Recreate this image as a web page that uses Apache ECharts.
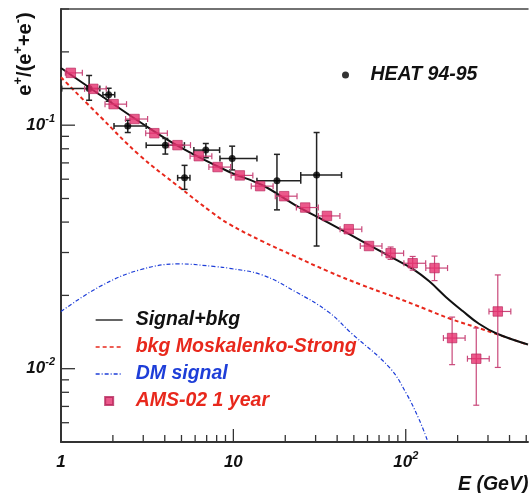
<!DOCTYPE html>
<html>
<head>
<meta charset="utf-8">
<script src="https://cdn.jsdelivr.net/npm/echarts@6/dist/echarts.min.js"></script>
<style>
  html, body { margin: 0; padding: 0; background: #fff; }
  #chart { width: 531px; height: 493px; }
</style>
</head>
<body>
<div id="chart"></div>
<script>
// Signal+bkg curve
const sumE = [1, 1.678, 2.853, 4.852, 9.42, 14.66, 22.83, 35.5, 55.3, 86.1, 109.7, 136.9, 170.8, 213.1, 265.9, 339, 511.7];
const sumF = [0.1717, 0.1334, 0.1033, 0.0816, 0.0644, 0.0568, 0.0470, 0.0398, 0.0335, 0.02824, 0.02569, 0.02284, 0.01972, 0.01729, 0.01529, 0.01391, 0.01257];

// bkg Moskalenko-Strong curve
const bkgE = [1, 1.678, 2.853, 4.852, 7.52, 9.42, 14.66, 22.83, 35.5, 55.3, 86.1, 133.6, 182.5, 284, 511.7];
const bkgF = [0.1573, 0.1089, 0.0753, 0.0557, 0.0438, 0.0393, 0.0334, 0.0289, 0.0251, 0.0221, 0.0197, 0.01745, 0.0160, 0.01445, 0.01254];

// DM signal curve
const dmE = [1, 1.678, 2.853, 4.852, 7.88, 9.42, 14.66, 22.83, 35.5, 48.3, 80.6, 100.4, 119.6, 134.6];
const dmF = [0.01717, 0.02174, 0.02544, 0.02693, 0.02626, 0.02586, 0.02428, 0.02074, 0.01713, 0.01400, 0.01010, 0.00795, 0.00618, 0.005];

// HEAT 94-95 points
const heatE = [1.456, 1.89, 2.44, 4.03, 5.21, 6.92, 9.84, 17.9, 30.4];
const heatF = [0.1413, 0.1334, 0.0993, 0.0828, 0.0608, 0.0790, 0.0730, 0.0592, 0.0624];
const heatELo = [1.01, 1.75, 2.03, 3.12, 4.75, 5.9, 8.36, 13.7, 24.6];
const heatEHi = [1.68, 2.05, 3.12, 5.2, 5.6, 8.32, 13.7, 24.6, 42.4];
const heatFLo = [0.1266, 0.1254, 0.0933, 0.0761, 0.0545, 0.0735, 0.0655, 0.0449, 0.0319];
const heatFHi = [0.160, 0.1418, 0.1048, 0.0882, 0.0684, 0.0841, 0.082, 0.0759, 0.0933];

// AMS-02 1 year points
const amsE = [1.14, 1.54, 2.02, 2.67, 3.48, 4.74, 6.3, 8.1, 10.9, 14.3, 19.7, 26.1, 34.9, 46.7, 61.2, 81.7, 109.7, 146.9, 185.8, 256.5, 342];
const amsF = [0.164, 0.141, 0.122, 0.106, 0.0927, 0.0828, 0.0746, 0.0673, 0.0622, 0.0562, 0.0511, 0.0459, 0.0424, 0.0374, 0.0319, 0.0298, 0.0271, 0.0259, 0.01336, 0.01099, 0.01718];
const amsELo = [1.06, 1.37, 1.80, 2.37, 3.10, 4.22, 5.61, 7.21, 9.70, 12.7, 17.5, 23.2, 31.1, 41.6, 54.5, 72.7, 97.6, 130.7, 165.4, 228, 304];
const amsEHi = [1.33, 1.83, 2.40, 3.18, 4.14, 5.64, 7.50, 9.64, 12.97, 17.0, 23.4, 31.1, 41.5, 55.6, 72.8, 97.2, 130.5, 174.8, 221, 305, 407];
const amsFLo = [0.164, 0.141, 0.122, 0.106, 0.0927, 0.0828, 0.0746, 0.0673, 0.0622, 0.0562, 0.0511, 0.0459, 0.0424, 0.0374, 0.0319, 0.0281, 0.0254, 0.0230, 0.01039, 0.00708, 0.01012];
const amsFHi = [0.164, 0.141, 0.122, 0.106, 0.0927, 0.0828, 0.0746, 0.0673, 0.0622, 0.0562, 0.0511, 0.0459, 0.0424, 0.0374, 0.0319, 0.0316, 0.0289, 0.0290, 0.01629, 0.01469, 0.02427];

// axis ticks
const xMajorTicks = [1, 10, 100];
const xMinorTicks = [2, 3, 4, 5, 6, 7, 8, 9, 20, 30, 40, 50, 60, 70, 80, 90, 200, 300, 400, 500];
const yMajorTicks = [0.01, 0.1];
const yMinorTicks = [0.006, 0.007, 0.008, 0.009, 0.02, 0.03, 0.04, 0.05, 0.06, 0.07, 0.08, 0.09, 0.2, 0.3];

// the picture is cut at the right, around E = 512 GeV
const xMin = 1, xMax = 512, yMin = 0.005, yMax = 0.3;

const FONT = 'Liberation Sans';
const RED = '#e8281c';
const BLUE = '#1e3ed8';
const PINK = '#e6306e';
const PINK_BAR = '#c9487a';
const AXIS = '#333';

const zip = (a, b) => a.map((v, i) => [v, b[i]]);

function labelRich() {
  return {
    b: { fontFamily: FONT, fontSize: 17, fontWeight: 'bold', fontStyle: 'italic', color: '#111', lineHeight: 24 },
    s: { fontFamily: FONT, fontSize: 11, fontWeight: 'bold', fontStyle: 'italic', color: '#111', lineHeight: 12, verticalAlign: 'top' }
  };
}

function powerLabel(v) {
  const p = Math.log10(v);
  const n = Math.round(p);
  if (Math.abs(p - n) > 1e-6) return '';
  if (n === 0) return '{b|1}';
  if (n === 1) return '{b|10}';
  return '{b|10}{s|' + n + '}';
}

function errorBars(color, width, cap) {
  return function (params, api) {
    const e = api.value(0), f = api.value(1);
    const l = api.coord([api.value(2), f]);
    const r = api.coord([api.value(3), f]);
    const st = { stroke: color, lineWidth: width };
    const kids = [
      { type: 'line', shape: { x1: l[0], y1: l[1], x2: r[0], y2: r[1] }, style: st },
      { type: 'line', shape: { x1: l[0], y1: l[1] - cap, x2: l[0], y2: l[1] + cap }, style: st },
      { type: 'line', shape: { x1: r[0], y1: r[1] - cap, x2: r[0], y2: r[1] + cap }, style: st }
    ];
    const fLo = api.value(4), fHi = api.value(5);
    if (fHi > fLo) {
      const t = api.coord([e, fHi]), b = api.coord([e, fLo]);
      kids.push(
        { type: 'line', shape: { x1: t[0], y1: t[1], x2: b[0], y2: b[1] }, style: st },
        { type: 'line', shape: { x1: t[0] - cap, y1: t[1], x2: t[0] + cap, y2: t[1] }, style: st },
        { type: 'line', shape: { x1: b[0] - cap, y1: b[1], x2: b[0] + cap, y2: b[1] }, style: st }
      );
    }
    return { type: 'group', children: kids };
  };
}

const heatBars = heatE.map((e, i) => [e, heatF[i], heatELo[i], heatEHi[i], heatFLo[i], heatFHi[i]]);
const amsBars = amsE.map((e, i) => [e, amsF[i], amsELo[i], amsEHi[i], amsFLo[i], amsFHi[i]]);

const xTickData = xMajorTicks.map(t => [t, yMin, 1]).concat(xMinorTicks.map(t => [t, yMin, 0]));
const yTickData = yMajorTicks.map(t => [xMin, t, 1]).concat(yMinorTicks.map(t => [xMin, t, 0]));

const chart = echarts.init(document.getElementById('chart'));

const noSymbol = { color: 'transparent', borderWidth: 0 };

const option = {
  animation: false,
  backgroundColor: '#fff',
  grid: { left: 61, right: 0, top: 9, bottom: 51, show: false },
  xAxis: [
    {
      type: 'log', logBase: 10, min: xMin, max: xMax,
      axisLine: { show: true, lineStyle: { color: AXIS, width: 2 } },
      axisTick: { show: false },
      splitLine: { show: false },
      axisLabel: { margin: 8, formatter: powerLabel, rich: labelRich() }
    },
    {
      // top frame line
      type: 'log', logBase: 10, min: xMin, max: xMax, position: 'top',
      axisLine: { show: true, lineStyle: { color: '#444', width: 1.5 } },
      axisTick: { show: false }, axisLabel: { show: false }, splitLine: { show: false }
    }
  ],
  yAxis: {
    type: 'log', logBase: 10, min: yMin, max: yMax,
    axisLine: { show: true, lineStyle: { color: AXIS, width: 2 } },
    axisTick: { show: false },
    splitLine: { show: false },
    axisLabel: { margin: 6, formatter: powerLabel, rich: labelRich() }
  },
  legend: [
    {
      orient: 'vertical', left: 90, top: 305,
      itemWidth: 27, itemHeight: 8, itemGap: 7,
      lineStyle: { width: 1.3 },
      textStyle: { fontFamily: FONT, fontSize: 19.5, fontWeight: 'bold', fontStyle: 'italic', padding: [0, 0, 0, 8] },
      data: [
        { name: 'Signal+bkg', itemStyle: noSymbol, textStyle: { color: '#111' } },
        { name: 'bkg Moskalenko-Strong', itemStyle: noSymbol, textStyle: { color: RED } },
        { name: 'DM signal', itemStyle: noSymbol, textStyle: { color: BLUE } },
        { name: 'AMS-02 1 year', icon: 'path://M0,0H10V10H0Z', textStyle: { color: RED } }
      ]
    },
    {
      left: 337, top: 60,
      itemWidth: 40, itemHeight: 7,
      textStyle: { fontFamily: FONT, fontSize: 19.5, fontWeight: 'bold', fontStyle: 'italic', color: '#111' },
      data: ['HEAT 94-95']
    }
  ],
  graphic: [
    {
      type: 'text', x: 25, y: 54, rotation: Math.PI / 2,
      style: {
        text: '{b|e}{s|+}{b|/(e}{s|+}{b|+e}{s|-}{b|)}',
        align: 'center', verticalAlign: 'middle',
        rich: {
          b: { fontFamily: FONT, fontSize: 20, fontWeight: 'bold', fill: '#111', lineHeight: 27 },
          s: { fontFamily: FONT, fontSize: 13, fontWeight: 'bold', fill: '#111', lineHeight: 13, verticalAlign: 'top' }
        }
      }
    },
    {
      type: 'text', x: 458, y: 485,
      style: {
        text: 'E (GeV)', fill: '#111',
        font: 'italic bold 19.5px "Liberation Sans"',
        align: 'left', verticalAlign: 'middle'
      }
    }
  ],
  series: [
    {
      name: 'xticks', type: 'custom', silent: true, z: 1,
      encode: { x: 0, y: 1 },
      renderItem: function (params, api) {
        const p = api.coord([api.value(0), api.value(1)]);
        const len = api.value(2) ? 13 : 7;
        return { type: 'line', shape: { x1: p[0], y1: p[1], x2: p[0], y2: p[1] - len }, style: { stroke: AXIS, lineWidth: 1.3 } };
      },
      data: xTickData
    },
    {
      name: 'yticks', type: 'custom', silent: true, z: 1,
      encode: { x: 0, y: 1 },
      renderItem: function (params, api) {
        const p = api.coord([api.value(0), api.value(1)]);
        const len = api.value(2) ? 14 : 8;
        return { type: 'line', shape: { x1: p[0], y1: p[1], x2: p[0] + len, y2: p[1] }, style: { stroke: AXIS, lineWidth: 1.3 } };
      },
      data: yTickData
    },
    {
      name: 'DM signal', type: 'line', symbol: 'none', smooth: 0.4, z: 2,
      lineStyle: { color: BLUE, width: 1.2, type: [4, 2, 1, 2] },
      itemStyle: { color: BLUE },
      data: zip(dmE, dmF)
    },
    {
      name: 'bkg Moskalenko-Strong', type: 'line', symbol: 'none', smooth: 0.4, z: 2,
      lineStyle: { color: RED, width: 2, type: [4, 3] },
      itemStyle: { color: RED },
      data: zip(bkgE, bkgF)
    },
    {
      name: 'Signal+bkg', type: 'line', symbol: 'none', smooth: 0.4, z: 3,
      lineStyle: { color: '#111', width: 2 },
      itemStyle: { color: '#111' },
      data: zip(sumE, sumF)
    },
    {
      name: 'heatErr', type: 'custom', silent: true, z: 4,
      encode: { x: 0, y: 1 },
      renderItem: errorBars('#222', 1.5, 3),
      data: heatBars
    },
    {
      name: 'amsErr', type: 'custom', silent: true, z: 4,
      encode: { x: 0, y: 1 },
      renderItem: errorBars(PINK_BAR, 1.2, 3),
      data: amsBars
    },
    {
      name: 'HEAT 94-95', type: 'scatter', symbol: 'circle', symbolSize: 7, z: 5,
      itemStyle: { color: '#000' },
      data: zip(heatE, heatF)
    },
    {
      name: 'AMS-02 1 year', type: 'scatter', symbol: 'rect', symbolSize: 9.5, z: 6,
      itemStyle: { color: PINK, borderColor: '#b5245a', borderWidth: 0.8 },
      data: zip(amsE, amsF)
    }
  ]
};

chart.setOption(option);
</script>
</body>
</html>
